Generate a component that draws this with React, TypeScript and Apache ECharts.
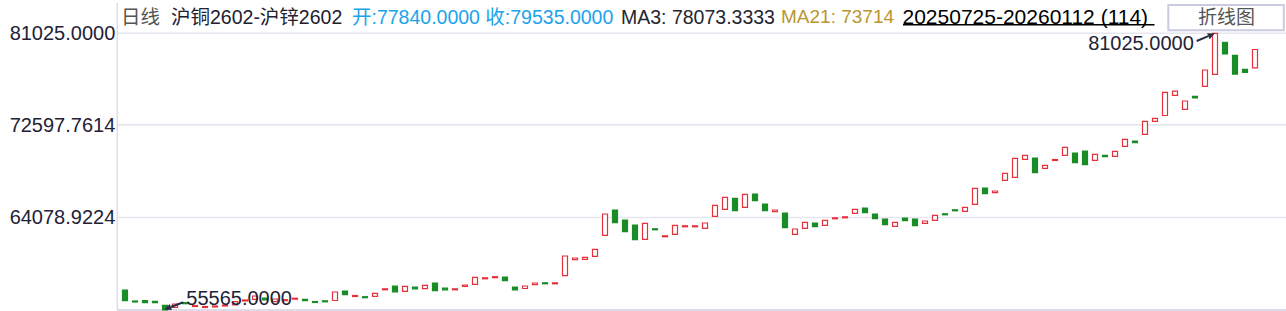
import { useEffect, useRef } from "react";
import * as echarts from "echarts";

// ---- data ----
const OPEN: number[] = [
  57406, 56394, 56422, 56366, 55998, 55814, 56238, 55888, 55796, 55842,
  55934, 56026, 56394, 56550, 56670, 56330, 56422, 56560, 56550, 56348,
  56411, 56440, 57314, 56808, 56790, 56826, 57424, 57756, 57286, 57664,
  57526, 58050, 57572, 57424, 57746, 57930, 58436, 58538, 58602, 57682,
  57544, 57894, 58068, 57976, 58722, 60194, 60231, 60507, 62439, 64767,
  63847, 63387, 62071, 63037, 62301, 62531, 63221, 63221, 63083, 64187,
  64831, 65843, 65015, 66239, 65319, 64610, 64491, 62531, 63083, 63571,
  63359, 63957, 64049, 64463, 64951, 64399, 63939, 63267, 64031, 63939,
  63543, 63819, 64417, 64785, 64647, 65291, 66791, 66359, 67500, 67776,
  69432, 69551, 68604, 69321, 69800, 70011, 70195, 69340, 69800, 69708,
  70628, 71116, 71732, 72928, 73462, 75320, 74032, 75228, 76148, 77253,
  80200, 79000, 77700, 77840,
];
const CLOSE: number[] = [
  56422, 56302, 56238, 56238, 55565, 56118, 56146, 55980, 55888, 55934,
  56026, 56330, 56486, 56854, 56486, 56578, 56514, 56652, 56422, 56256,
  56319, 57222, 56974, 56900, 56698, 57102, 57516, 57240, 57746, 57516,
  57838, 57342, 57424, 57516, 57866, 58574, 58528, 58630, 58262, 57424,
  57774, 58050, 57976, 58068, 60534, 60350, 60415, 61151, 64399, 63598,
  62770, 62034, 63543, 62945, 62393, 63359, 63313, 63313, 63571, 65199,
  65935, 64702, 66211, 65622, 64702, 64767, 63138, 63019, 63635, 63230,
  63819, 64049, 64141, 64831, 64518, 63966, 63414, 63635, 63782, 63322,
  63755, 64279, 64325, 64693, 65015, 66763, 66267, 66515, 68144, 69524,
  69800, 68199, 68880, 69413, 70536, 69119, 68935, 69892, 69671, 70168,
  71272, 70959, 72928, 73204, 75596, 75698, 74796, 75072, 77648, 81025,
  79120, 77265, 77420, 79535,
];
const Y_MIN = 55565;
const Y_MAX = 81025;
const Y_TICKS: number[] = [81025, 72597.7614, 64078.9224];
const MAX_POINT = { index: 109, value: 81025, label: "81025.0000" };
const MIN_POINT = { index: 4, value: 55565, label: "55565.0000" };

const START_DATE = "2025-07-25";
const END_DATE = "2026-01-12";
const HOLIDAYS: string[] = [
  "20251001", "20251002", "20251003", "20251006", "20251007", "20251008",
  "20260101", "20260102",
];

const HEADER_SEGMENTS = [
  { text: "日线", x: 121, color: "#555555", size: 19.5 },
  { text: "沪铜2602-沪锌2602", x: 171, color: "#20202e", size: 19.5 },
  { text: "开:77840.0000 收:79535.0000", x: 352, color: "#1ba3ea", size: 19.5 },
  { text: "MA3: 78073.3333", x: 621, color: "#25252f", size: 19.5 },
  { text: "MA21: 73714", x: 781, color: "#b8962f", size: 19 },
];
const DATE_RANGE_TEXT = "20250725-20260112 (114)";
const BUTTON_TEXT = "折线图";

// ---- styles / layout ----
const W = 1286;
const H = 311;
const FONT = '"Liberation Sans", Arial, "Noto Sans CJK SC", sans-serif';
const UP = "#e8303a";
const DOWN = "#1a8c26";
const GRID_LEFT = 120.3;
const GRID_TOP = 33.3;
const GRID_BOTTOM_Y = 310;
const AXIS_X = 117.3;
const NAVY = "#222236";

function tradingDays(start: string, end: string, holidays: string[]): string[] {
  const out: string[] = [];
  const d = new Date(start + "T00:00:00Z");
  const e = new Date(end + "T00:00:00Z");
  while (d.getTime() <= e.getTime()) {
    const wd = d.getUTCDay();
    const s =
      d.getUTCFullYear().toString() +
      String(d.getUTCMonth() + 1).padStart(2, "0") +
      String(d.getUTCDate()).padStart(2, "0");
    if (wd !== 0 && wd !== 6 && holidays.indexOf(s) < 0) out.push(s);
    d.setUTCDate(d.getUTCDate() + 1);
  }
  return out;
}

const CATEGORIES = OPEN.map((_, i) => tradingDays(START_DATE, END_DATE, HOLIDAYS)[i] ?? String(i));

function arrowEls(from: number[], to: number[], color: string) {
  const dx = to[0] - from[0];
  const dy = to[1] - from[1];
  const len = Math.sqrt(dx * dx + dy * dy) || 1;
  const ux = dx / len;
  const uy = dy / len;
  const hl = 7;
  const hw = 3.2;
  const bx = to[0] - ux * hl;
  const by = to[1] - uy * hl;
  return [
    {
      type: "line",
      z: 100,
      shape: { x1: from[0], y1: from[1], x2: bx, y2: by },
      style: { stroke: color, lineWidth: 2 },
      silent: true,
    },
    {
      type: "polygon",
      z: 100,
      shape: {
        points: [
          [to[0], to[1]],
          [bx - uy * hw, by + ux * hw],
          [bx + uy * hw, by - ux * hw],
        ],
      },
      style: { fill: color },
      silent: true,
    },
  ];
}

export default function App() {
  const ref = useRef<HTMLDivElement>(null);

  useEffect(() => {
    if (!ref.current) return;
    const chart = echarts.init(ref.current, undefined, { renderer: "svg" });
    const data = OPEN.map((o, i) => [o, CLOSE[i], Math.min(o, CLOSE[i]), Math.max(o, CLOSE[i])]);
    const bandW = 10;
    chart.setOption({
      animation: false,
      backgroundColor: "#ffffff",
      grid: {
        left: GRID_LEFT,
        top: GRID_TOP,
        width: bandW * OPEN.length,
        height: GRID_BOTTOM_Y - GRID_TOP,
        containLabel: false,
      },
      xAxis: {
        type: "category",
        data: CATEGORIES,
        boundaryGap: true,
        axisLine: { show: false },
        axisTick: { show: false },
        axisLabel: { show: false },
        splitLine: { show: false },
      },
      yAxis: {
        type: "value",
        min: Y_MIN,
        max: Y_MAX,
        offset: GRID_LEFT - AXIS_X,
        axisLine: { show: false },
        axisTick: { show: false },
        splitLine: { show: false },
        axisLabel: {
          customValues: Y_TICKS,
          showMinLabel: true,
          showMaxLabel: true,
          margin: 2,
          color: NAVY,
          fontSize: 20,
          fontFamily: FONT,
          formatter: (v: number) => v.toFixed(4),
        },
      },
      series: [
        {
          type: "candlestick",
          data,
          barWidth: 5.5,
          itemStyle: {
            color: "#ffffff",
            color0: DOWN,
            borderColor: UP,
            borderColor0: DOWN,
            borderWidth: 1.2,
          },
          z: 2,
        },
      ],
    });

    const toPx = (i: number, v: number) =>
      chart.convertToPixel({ seriesIndex: 0 }, [i, v]) as unknown as number[];

    const g: any[] = [];
    // frame and grid lines
    const yBottom = toPx(0, Y_MIN)[1];
    Y_TICKS.forEach((t) => {
      const y = toPx(0, t)[1];
      g.push({
        type: "line",
        z: 0,
        silent: true,
        shape: { x1: AXIS_X, y1: y, x2: W, y2: y },
        style: { stroke: "#e6e6f0", lineWidth: 1.6 },
      });
    });
    g.push({
      type: "line",
      z: 0,
      silent: true,
      shape: { x1: AXIS_X, y1: yBottom, x2: W, y2: yBottom },
      style: { stroke: "#d2d2e2", lineWidth: 1.5 },
    });
    g.push({
      type: "line",
      z: 0,
      silent: true,
      shape: { x1: AXIS_X, y1: 3, x2: AXIS_X, y2: yBottom },
      style: { stroke: "#dcdcea", lineWidth: 1.5 },
    });

    // header
    HEADER_SEGMENTS.forEach((s) => {
      g.push({
        type: "text",
        z: 50,
        silent: true,
        style: {
          text: s.text,
          x: s.x,
          y: 16.8,
          fill: s.color,
          fontSize: s.size,
          fontFamily: FONT,
          align: "left",
          verticalAlign: "middle",
        },
      });
    });
    g.push({
      type: "text",
      z: 50,
      silent: true,
      style: {
        text: DATE_RANGE_TEXT,
        x: 902.5,
        y: 16.3,
        fill: "#000000",
        fontSize: 21,
        fontFamily: FONT,
        align: "left",
        verticalAlign: "middle",
      },
    });
    g.push({
      type: "line",
      z: 50,
      silent: true,
      shape: { x1: 903, y1: 24.8, x2: 1154.5, y2: 24.8 },
      style: { stroke: "#000000", lineWidth: 1.4 },
    });
    g.push({
      type: "rect",
      z: 50,
      silent: true,
      shape: { x: 1168.3, y: 5, width: 115.5, height: 25.3 },
      style: { fill: "#ffffff", stroke: "#c9cbe2", lineWidth: 2 },
    });
    g.push({
      type: "text",
      z: 51,
      silent: true,
      style: {
        text: BUTTON_TEXT,
        x: 1226.5,
        y: 17.5,
        fill: "#555555",
        fontSize: 19,
        fontFamily: FONT,
        align: "center",
        verticalAlign: "middle",
      },
    });

    // max / min annotations
    const pMax = toPx(MAX_POINT.index, MAX_POINT.value);
    g.push(...arrowEls([pMax[0] - 18.6, pMax[1] + 7.7], [pMax[0] - 0.5, pMax[1] + 0.2], "#2a2d45"));
    g.push({
      type: "text",
      z: 100,
      silent: true,
      style: {
        text: MAX_POINT.label,
        x: pMax[0] - 21.5,
        y: pMax[1] + 10,
        fill: NAVY,
        fontSize: 20,
        fontFamily: FONT,
        align: "right",
        verticalAlign: "middle",
      },
    });
    const pMin = toPx(MIN_POINT.index, MIN_POINT.value);
    g.push(...arrowEls([pMin[0] + 18, pMin[1] - 7.7], [pMin[0] - 1, pMin[1] - 0.5], "#2a2d45"));
    g.push({
      type: "text",
      z: 100,
      silent: true,
      style: {
        text: MIN_POINT.label,
        x: pMin[0] + 21,
        y: pMin[1] - 11.7,
        fill: NAVY,
        fontSize: 20,
        fontFamily: FONT,
        align: "left",
        verticalAlign: "middle",
      },
    });

    chart.setOption({ graphic: { elements: g } });

    return () => {
      chart.dispose();
    };
  }, []);

  return (
    <div
      ref={ref}
      style={{ position: "absolute", left: 0, top: 0, width: W, height: H, background: "#fff" }}
    />
  );
}
